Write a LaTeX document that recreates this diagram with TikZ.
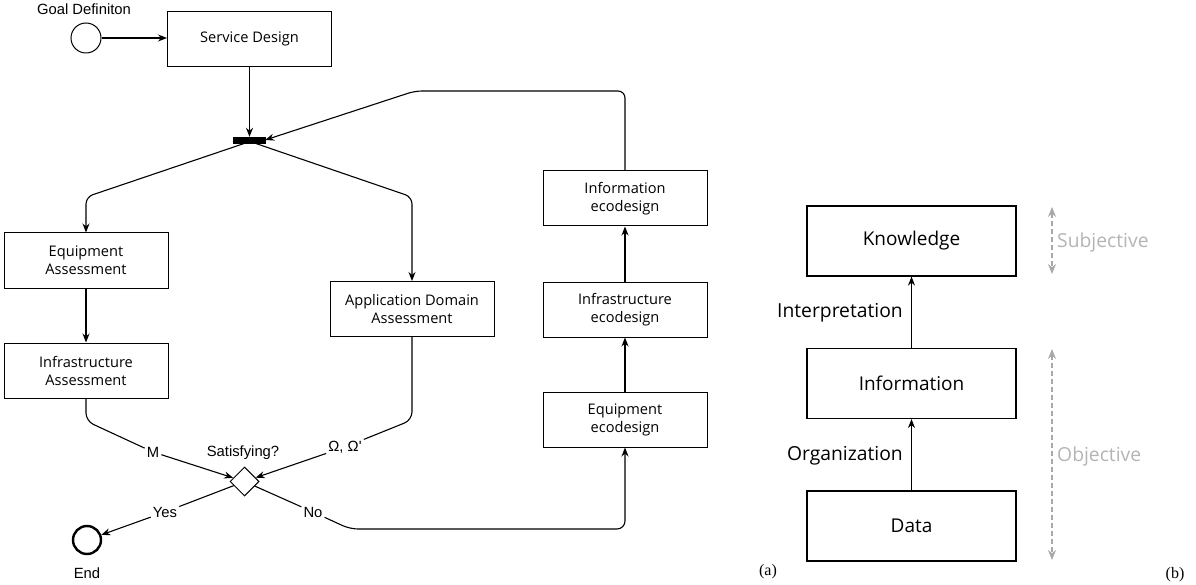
\documentclass[tikz,border=0pt]{standalone}
\usepackage{fontspec}
\setmainfont{Open Sans}
\newfontfamily\arialf{Liberation Sans}
\newfontfamily\timesf{Liberation Serif}
\usetikzlibrary{arrows.meta,shapes.geometric}
\definecolor{lgray}{HTML}{A8A8A8}
\definecolor{tgray}{HTML}{B4B4B4}
\tikzset{
  box/.style={draw, line width=1pt, minimum width=164pt, minimum height=55pt, align=center, inner sep=0pt, font=\fontsize{14.6}{18}\selectfont},
  bbox/.style={draw, line width=1.1pt, minimum width=209pt, minimum height=70pt, inner sep=0pt, font=\fontsize{19}{23}\selectfont},
  arr/.style={line width=1.1pt, -{Stealth[length=9pt,width=7pt]}},
  plain/.style={line width=1.1pt},
  lab/.style={font=\arialf\fontsize{14.8}{17}\selectfont, inner sep=2pt},
  blab/.style={font=\fontsize{19.3}{23}\selectfont, inner sep=0pt},
  garr/.style={color=lgray, line width=1.1pt, dashed, dash pattern=on 5pt off 3pt, {Stealth[length=10pt,width=8pt]}-{Stealth[length=10pt,width=8pt]}},
  glab/.style={text=tgray, font=\fontsize{19.3}{23}\selectfont, inner sep=0pt, anchor=west},
  figcap/.style={font=\timesf\fontsize{16}{19}\selectfont, inner sep=0pt}
}
\begin{document}
\begin{tikzpicture}[x=1pt,y=-1pt]
\useasboundingbox (0,0) rectangle (1196,585);

% ---------- (a) ----------
\node[lab] (goaltxt) at (84,9) {Goal Definiton};
\node[circle, draw, line width=1pt, minimum size=30pt, inner sep=0pt] (goal) at (86,38) {};
\node[box] (sd) at (249.5,39) {Service Design};
\node[draw, fill=black, minimum width=32pt, minimum height=6pt, inner sep=0pt] (bar) at (249,140) {};

\node[box] (ea) at (86,260.5) {Equipment\\Assessment};
\node[box] (ia) at (86,370.5) {Infrastructure\\Assessment};
\node[box] (ad) at (412,309) {Application Domain\\Assessment};

\node[box] (ie) at (625,198.5) {Information\\ecodesign};
\node[box] (fe) at (625,309.5) {Infrastructure\\ecodesign};
\node[box] (qe) at (625,419.5) {Equipment\\ecodesign};

\node[diamond, draw, line width=1pt, aspect=1, minimum width=29pt, minimum height=29pt, inner sep=0pt] (dia) at (244.5,481.5) {};
\node[lab] (sat) at (243,453) {Satisfying?};
\node[lab] (mlab) at (153,452) {M};
\node[lab] (olab) at (345,447) {Ω, Ω'};
\node[lab] (ylab) at (165,512) {Yes};
\node[lab] (nlab) at (313,512) {No};
\node[circle, draw, line width=2.4pt, minimum size=28pt, inner sep=0pt] (endc) at (87,540) {};
\node[lab] (endtxt) at (87,573) {End};

\draw[arr] (goal.east) -- (goal.east -| sd.west);
\draw[arr] (sd.south) -- (sd.south |- bar.north);
\draw[arr, rounded corners=7pt] (ie.north) -- (625,91) -- (415,91) -- (bar.east);
\draw[arr, rounded corners=7pt] ([xshift=-4pt]bar.south) -- (86,197) -- (ea.north);
\draw[arr, rounded corners=7pt] ([xshift=6pt]bar.south) -- (412,197) -- (ad.north);
\draw[arr] (ea) -- (ia);
\draw[plain, rounded corners=8pt] (ia.south) -- (86,421) -- (mlab);
\draw[arr] (mlab) -- (dia);
\draw[plain, rounded corners=8pt] (ad.south) -- (412,420) -- (olab);
\draw[arr] (olab) -- (dia);
\draw[plain] (dia) -- (ylab);
\draw[arr] (ylab) -- (endc);
\draw[plain] (dia) -- (nlab);
\draw[arr, rounded corners=8pt] (nlab) -- (350,529) -- (625,529) -- (qe.south);
\draw[arr] (fe) -- (ie);
\draw[arr] (qe) -- (fe);

\node[figcap] (capa) at (768,572) {(a)};

% ---------- (b) ----------
\node[bbox] (kn) at (911.5,241) {Knowledge};
\node[bbox] (inf) at (911.5,383.5) {Information};
\node[bbox] (dat) at (911.5,526) {Data};
\draw[arr] (dat) -- (inf);
\draw[arr] (inf) -- (kn);
\node[blab, anchor=east] (interp) at (903,313) {Interpretation};
\node[blab, anchor=east] (org) at (903,456) {Organization};

\coordinate (s1) at (1052,207);
\coordinate (s2) at (1052,274);
\coordinate (o1) at (1052,349);
\coordinate (o2) at (1052,560);
\draw[garr] (s1) -- (s2);
\draw[garr] (o1) -- (o2);
\node[glab] (subj) at (1057,242) {Subjective};
\node[glab] (obj) at (1057,456) {Objective};

\node[figcap] (capb) at (1175,575) {(b)};
\end{tikzpicture}
\end{document}
